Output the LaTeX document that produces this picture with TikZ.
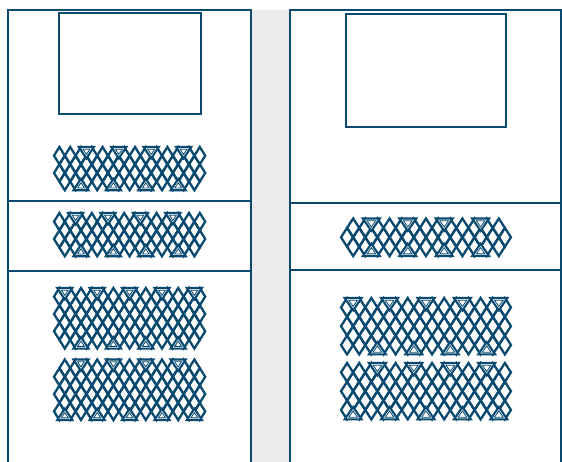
\documentclass[tikz,border=0pt]{standalone}
\usepackage{tikz}
\usetikzlibrary{calc}
\definecolor{meshblue}{HTML}{0A4A70}
\definecolor{gapgray}{HTML}{EBEBEB}
\tikzset{
  frame/.style={draw=meshblue, line width=1.9pt},
  strut/.style={draw=meshblue, line width=2.3pt, line join=miter},
  triout/.style={draw=meshblue, fill=white, line width=2.1pt, line join=miter},
  triin/.style={draw=meshblue, line width=0.8pt}
}
% #1 left, #2 top, #3 diamond width, #4 diamond height, #5 half rows,
% #6 parity of columns cut at top, #7 top triangles, #8 bottom triangles
\newcommand{\meshband}[8]{%
  \pgfmathsetmacro{\hw}{#3/2}
  \pgfmathsetmacro{\hh}{#4/2}
  \pgfmathtruncatemacro{\lastm}{#5-1}
  \pgfmathsetmacro{\ybot}{#2+#5*#4/2}
  \pgfmathsetmacro{\tw}{1.4*\hw}
  \pgfmathsetmacro{\th}{1.32*\hh}
  \pgfmathsetmacro{\rr}{(\tw*\th)/(\tw+veclen(\tw,\th))}
  \pgfmathsetmacro{\fs}{(\rr-2.2)/\rr}
  \foreach \k in {0,...,26}{
    \pgfmathsetmacro{\cx}{#1+(\k+1)*\hw}
    \foreach \m in {1,...,\lastm}{
      \pgfmathtruncatemacro{\ok}{mod(\m+\k+#6,2)==0}
      \ifnum\ok=1
        \pgfmathsetmacro{\cy}{#2+\m*\hh}
        \draw[strut] (\cx-\hw,\cy) -- (\cx,\cy-\hh) -- (\cx+\hw,\cy) -- (\cx,\cy+\hh) -- cycle;
      \fi
    }
  }
  \foreach \t in {#7}{
    \pgfmathsetmacro{\cx}{#1+(\t+1)*\hw}
    \pgfmathsetmacro{\iy}{#2+\rr}
    \draw[triout] (\cx-\tw,#2) -- (\cx+\tw,#2) -- (\cx,#2+\th) -- cycle;
    \draw[triin] (\cx-\fs*\tw,\iy-\fs*\rr) -- (\cx+\fs*\tw,\iy-\fs*\rr) -- (\cx,\iy+\fs*\th-\fs*\rr) -- cycle;
  }
  \foreach \t in {#8}{
    \pgfmathsetmacro{\cx}{#1+(\t+1)*\hw}
    \pgfmathsetmacro{\iy}{\ybot-\rr}
    \draw[triout] (\cx-\tw,\ybot) -- (\cx+\tw,\ybot) -- (\cx,\ybot-\th) -- cycle;
    \draw[triin] (\cx-\fs*\tw,\iy+\fs*\rr) -- (\cx+\fs*\tw,\iy+\fs*\rr) -- (\cx,\iy-\fs*\th+\fs*\rr) -- cycle;
  }
}
\begin{document}
\begin{tikzpicture}[x=1pt,y=-1pt]
  \useasboundingbox (0,0) rectangle (562,462);
  % gap
  \fill[gapgray] (251,10) rectangle (290,462);
  % left panel
  \draw[frame] (8,462) -- (8,10) -- (251,10) -- (251,462);
  \draw[frame] (8,201) -- (251,201);
  \draw[frame] (8,271) -- (251,271);
  \draw[frame] (59,13) rectangle (201,114);
  % right panel
  \draw[frame] (290,462) -- (290,10) -- (561,10) -- (561,462);
  \draw[frame] (290,203) -- (561,203);
  \draw[frame] (290,270) -- (561,270);
  \draw[frame] (346,14) rectangle (506,127);
  % meshes, left
  \meshband{54}{147}{10.8}{17.3}{5}{1}{5,11,17,23}{4,10,16,22}
  \meshband{54}{213}{10.8}{17.3}{5}{1}{3,9,15,21}{4,10,16,22}
  \meshband{54}{288}{10.8}{17.3}{7}{1}{1,7,13,19,25}{4,10,16,22}
  \meshband{54}{359.5}{10.8}{17.3}{7}{0}{4,10,16,22}{1,7,13,19,25}
  % meshes, right
  \meshband{341}{218.5}{12.14}{18.8}{4}{0}{4,10,16,22}{4,10,16,22}
  \meshband{341}{298}{12.14}{18.8}{6}{1}{1,7,13,19,25}{5,11,17,23}
  \meshband{341}{363}{12.14}{18.8}{6}{1}{5,11,17,23}{1,7,13,19,25}
\end{tikzpicture}
\end{document}
